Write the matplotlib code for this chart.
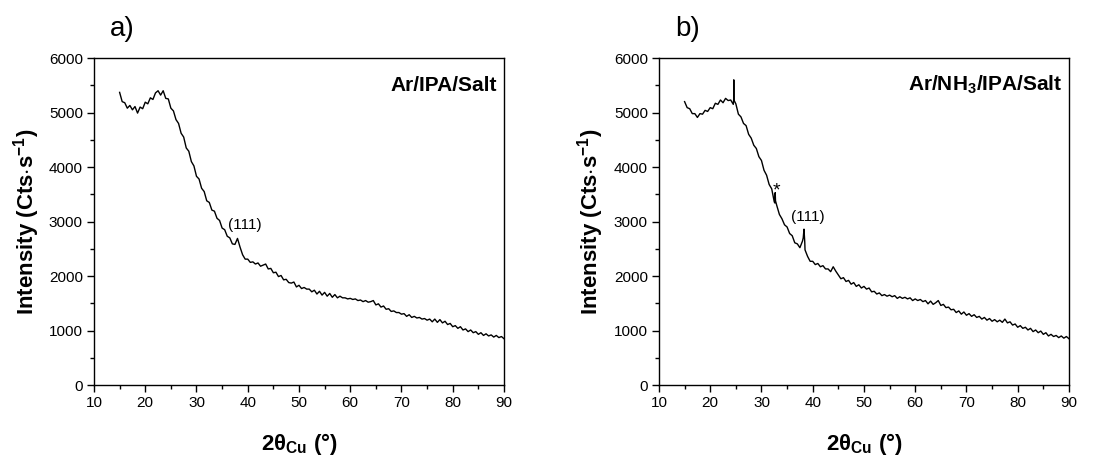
import numpy as np
import matplotlib
matplotlib.use('Agg')
import matplotlib.pyplot as plt
from matplotlib.ticker import MultipleLocator

plt.rcParams['font.family'] = ['Liberation Sans', 'DejaVu Sans']
plt.rcParams['mathtext.fontset'] = 'custom'
plt.rcParams['mathtext.rm'] = 'Liberation Sans'
plt.rcParams['mathtext.bf'] = 'Liberation Sans:bold'
plt.rcParams['mathtext.it'] = 'Liberation Sans:italic'

# 2theta grid, 0.5 deg steps from 15 to 90
two_theta = np.arange(15.0, 90.25, 0.5)

# Ar/IPA/Salt
counts_a = [
    5370, 5200, 5180, 5080, 5130, 5050, 5110, 4990, 5100, 5070,
    5190, 5160, 5270, 5240, 5360, 5400, 5320, 5400, 5260, 5250,
    5080, 5030, 4870, 4800, 4620, 4550, 4350, 4290, 4100, 4020,
    3830, 3780, 3610, 3550, 3380, 3350, 3210, 3190, 3060, 3020,
    2880, 2850, 2730, 2700, 2590, 2580, 2690, 2530, 2390, 2310,
    2310, 2250, 2260, 2220, 2240, 2180, 2200, 2220, 2130, 2140,
    2060, 2070, 1990, 2010, 1930, 1940, 1880, 1870, 1890, 1800,
    1830, 1770, 1790, 1760, 1760, 1710, 1740, 1670, 1720, 1650,
    1700, 1630, 1680, 1610, 1660, 1600, 1630, 1600, 1600, 1580,
    1590, 1570, 1580, 1550, 1560, 1530, 1550, 1520, 1530, 1550,
    1470, 1490, 1430, 1450, 1390, 1400, 1350, 1360, 1330, 1330,
    1300, 1310, 1260, 1290, 1240, 1260, 1230, 1240, 1210, 1220,
    1190, 1210, 1160, 1210, 1150, 1200, 1140, 1170, 1110, 1130,
    1070, 1090, 1040, 1070, 1010, 1030, 980, 1010, 960, 980,
    930, 960, 910, 940, 900, 920, 880, 910, 870, 890,
    850,
]

# Ar/NH3/IPA/Salt
counts_b = [
    5200, 5090, 5070, 4980, 4980, 4910, 4980, 4970, 5040, 5020,
    5090, 5070, 5170, 5150, 5230, 5180, 5260, 5220, 5230, 5150,
    5160, 4970, 4920, 4800, 4760, 4600, 4530, 4400, 4340, 4190,
    4120, 3940, 3850, 3680, 3600, 3360, 3290, 3130, 3050, 2940,
    2900, 2780, 2740, 2610, 2590, 2520, 2640, 2480, 2360, 2270,
    2270, 2210, 2230, 2170, 2190, 2130, 2130, 2080, 2170, 2090,
    2020, 1950, 1970, 1900, 1920, 1850, 1880, 1810, 1840, 1780,
    1810, 1760, 1780, 1710, 1720, 1670, 1690, 1640, 1660, 1630,
    1650, 1620, 1640, 1590, 1620, 1590, 1610, 1580, 1600, 1550,
    1580, 1550, 1570, 1530, 1550, 1490, 1540, 1480, 1510, 1550,
    1460, 1480, 1420, 1430, 1380, 1390, 1330, 1360, 1300, 1340,
    1280, 1310, 1260, 1290, 1240, 1260, 1210, 1240, 1190, 1220,
    1170, 1200, 1160, 1190, 1150, 1210, 1140, 1160, 1100, 1120,
    1060, 1090, 1040, 1060, 1010, 1040, 980, 1010, 960, 990,
    930, 960, 900, 930, 890, 910, 870, 900, 860, 890,
    850,
]

# narrow reflections in b (spike at 24.6, * at 32.7, (111) at 38.3)
spikes_b_x = [24.58, 24.60, 24.62, 32.62, 32.68, 32.74, 38.15, 38.30, 38.45]
spikes_b_y = [5240, 5600, 5230, 3340, 3530, 3380, 2700, 2860, 2620]

panels = [
    ('a)', 'Ar/IPA/Salt', two_theta, counts_a, [], []),
    ('b)', 'Ar/NH$_{\\mathbf{3}}$/IPA/Salt', two_theta, counts_b, spikes_b_x, spikes_b_y),
]
positions = [[0.0843, 0.1575, 0.3677, 0.7155], [0.591, 0.1575, 0.3677, 0.7155]]
peak_lbl = [(39.4, 2940), (39.1, 3080)]

fig = plt.figure(figsize=(11.15, 4.57), dpi=100)

for i, (tag, name, x, y, sx, sy) in enumerate(panels):
    ax = fig.add_axes(positions[i])
    xx = np.concatenate([x, sx])
    yy = np.concatenate([np.array(y, dtype=float), sy])
    order = np.argsort(xx)
    ax.plot(xx[order], yy[order], color='black', lw=1.0)

    ax.set_xlim(10, 90)
    ax.set_ylim(0, 6000)
    ax.xaxis.set_major_locator(MultipleLocator(10))
    ax.xaxis.set_minor_locator(MultipleLocator(5))
    ax.yaxis.set_major_locator(MultipleLocator(1000))
    ax.yaxis.set_minor_locator(MultipleLocator(500))
    ax.tick_params(which='major', direction='out', length=5, width=1, labelsize=11, pad=3)
    ax.tick_params(which='minor', direction='out', length=3, width=1)
    for sp in ax.spines.values():
        sp.set_linewidth(1.0)

    ax.set_ylabel('Intensity (Cts$\\cdot$s$^{\\mathbf{-1}}$)', fontsize=16, fontweight='bold')
    ax.yaxis.set_label_coords(-0.128, 0.5)
    ax.set_xlabel('2θ$_{\\mathbf{Cu}}$ (°)', fontsize=16, fontweight='bold')
    ax.xaxis.set_label_coords(0.5, -0.14)

    ax.text(0.983, 0.917, name, transform=ax.transAxes, ha='right', va='center',
            fontsize=15, fontweight='bold')
    ax.text(0.07, 1.09, tag, transform=ax.transAxes, ha='center', va='center', fontsize=20)
    ax.text(peak_lbl[i][0], peak_lbl[i][1], '(111)', ha='center', va='center', fontsize=11)
    if i == 1:
        ax.text(33.0, 3480, '*', ha='center', va='baseline', fontsize=14)

fig.savefig('out.png', dpi=100)
